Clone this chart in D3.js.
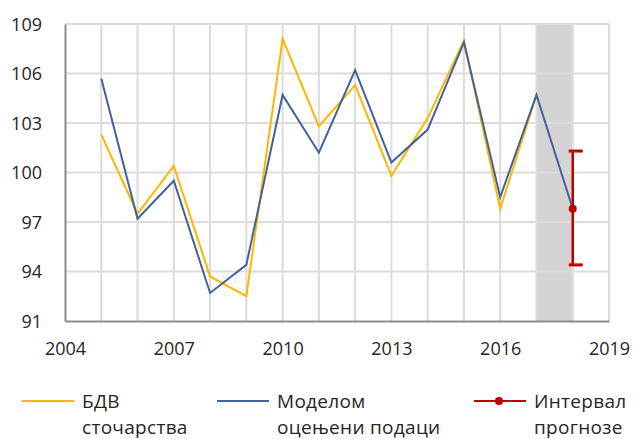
<!DOCTYPE html>
<html>
<head>
<meta charset="utf-8">
<style>
  body { margin: 0; background: #fff; }
  text { font-family: "Open Sans", "Noto Sans", sans-serif; fill: #262626; }
</style>
</head>
<body>
<script src="https://cdnjs.cloudflare.com/ajax/libs/d3/7.8.5/d3.min.js"></script>
<svg id="chart" width="636" height="439"></svg>
<script>
// data
var years = [2005, 2006, 2007, 2008, 2009, 2010, 2011, 2012, 2013, 2014, 2015, 2016, 2017, 2018];
var bdv = [102.3, 97.5, 100.4, 93.7, 92.5, 108.1, 102.8, 105.3, 99.8, 103.3, 108.0, 97.8, 104.7, null];
var model = [105.7, 97.2, 99.5, 92.7, 94.4, 104.7, 101.2, 106.2, 100.6, 102.6, 107.9, 98.5, 104.7, 97.8];
var interval = { year: 2018, value: 97.8, low: 94.4, high: 101.3 };
var shade = [2017, 2018];
var xTicks = [2004, 2007, 2010, 2013, 2016, 2019];
var yTicks = [91, 94, 97, 100, 103, 106, 109];
var legendItems = [
    { lines: ["БДВ", "сточарства"], color: "#ffb600", dot: false },
    { lines: ["Моделом", "оцењени подаци"], color: "#41629c", dot: false },
    { lines: ["Интервал", "прогнозе"], color: "#c00000", dot: true }
];

var svg = d3.select("#chart");
var x = d3.scaleLinear().domain([2004, 2019]).range([65, 609]);
var y = d3.scaleLinear().domain([91, 109]).range([321, 24]);

// shaded forecast year
svg.append("rect")
    .attr("x", x(shade[0]))
    .attr("y", y(109))
    .attr("width", x(shade[1]) - x(shade[0]))
    .attr("height", y(91) - y(109))
    .attr("fill", "#d4d4d4");

// grid
var gridYears = d3.range(2005, 2020);
svg.append("g").selectAll("line").data(gridYears).enter().append("line")
    .attr("x1", d => x(d)).attr("x2", d => x(d))
    .attr("y1", y(91)).attr("y2", y(109))
    .attr("stroke", "#dcdcdc").attr("stroke-width", 2);
svg.append("g").selectAll("line").data(yTicks.slice(1)).enter().append("line")
    .attr("x1", x(2004)).attr("x2", x(2019))
    .attr("y1", d => y(d)).attr("y2", d => y(d))
    .attr("stroke", "#dcdcdc").attr("stroke-width", 2);

// axes
var yAxis = svg.append("g")
    .attr("transform", "translate(" + x(2004) + ",0)")
    .call(d3.axisLeft(y).tickValues(yTicks).tickSize(0).tickPadding(23));
yAxis.select(".domain").attr("stroke", "#8c8c8c").attr("stroke-width", 2);
yAxis.selectAll("text").style("font-size", "18px").attr("dy", "0.35em");

var xAxis = svg.append("g")
    .attr("transform", "translate(0," + y(91) + ")")
    .call(d3.axisBottom(x).tickValues(xTicks).tickFormat(d3.format("d")).tickSize(0).tickPadding(21));
xAxis.select(".domain").attr("stroke", "#8c8c8c").attr("stroke-width", 2);
xAxis.selectAll("text").style("font-size", "18px");

// lines
var line = d3.line()
    .defined(d => d[1] != null)
    .x(d => x(d[0]))
    .y(d => y(d[1]));

svg.append("path")
    .datum(years.map((yr, i) => [yr, bdv[i]]))
    .attr("fill", "none")
    .attr("stroke", legendItems[0].color)
    .attr("stroke-width", 2)
    .attr("d", line);

svg.append("path")
    .datum(years.map((yr, i) => [yr, model[i]]))
    .attr("fill", "none")
    .attr("stroke", legendItems[1].color)
    .attr("stroke-width", 2)
    .attr("d", line);

// forecast interval
var ix = x(interval.year);
var red = legendItems[2].color;
svg.append("line")
    .attr("x1", ix).attr("x2", ix)
    .attr("y1", y(interval.high)).attr("y2", y(interval.low))
    .attr("stroke", red).attr("stroke-width", 2.5);
svg.selectAll(".cap").data([interval.high, interval.low]).enter().append("line")
    .attr("x1", ix - 4).attr("x2", ix + 10)
    .attr("y1", d => y(d)).attr("y2", d => y(d))
    .attr("stroke", red).attr("stroke-width", 3);
svg.append("circle")
    .attr("cx", ix).attr("cy", y(interval.value))
    .attr("r", 4).attr("fill", red);

// legend
var legendX = [22, 217, 474];
var lg = svg.selectAll(".legend").data(legendItems).enter().append("g")
    .attr("transform", (d, i) => "translate(" + legendX[i] + ",401)");
lg.append("line")
    .attr("x1", 0).attr("x2", 52)
    .attr("stroke", d => d.color).attr("stroke-width", 2);
lg.filter(d => d.dot).append("circle")
    .attr("cx", 25).attr("r", 4).attr("fill", d => d.color);
lg.each(function(d) {
    var t = d3.select(this).append("text")
        .attr("x", 60).attr("y", 7)
        .style("font-size", "19px")
        .style("letter-spacing", "0.3px");
    d.lines.forEach((s, k) => {
        t.append("tspan").attr("x", 60).attr("dy", k ? 26 : 0).text(s);
    });
});
</script>
</body>
</html>
